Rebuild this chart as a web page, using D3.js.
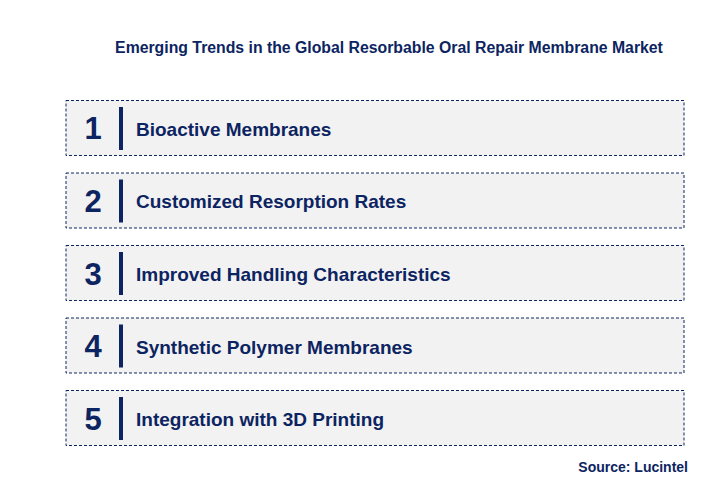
<!DOCTYPE html>
<html>
<head>
<meta charset="utf-8">
<script src="https://cdn.jsdelivr.net/npm/d3@7"></script>
<style>
body { margin: 0; background: #fff; }
text { font-family: "Liberation Sans", Arial, sans-serif; font-weight: bold; }
</style>
</head>
<body>
<div id="chart"></div>
<script>

var title = "Emerging Trends in the Global Resorbable Oral Repair Membrane Market";
var ranks = [1, 2, 3, 4, 5];
var trends = [
    "Bioactive Membranes",
    "Customized Resorption Rates",
    "Improved Handling Characteristics",
    "Synthetic Polymer Membranes",
    "Integration with 3D Printing"
];
var source = "Source: Lucintel";

var navy = "#0c2461";

var svg = d3.select( '#chart' ).append( "svg" ).attr( "width", 712 ).attr( "height", 481 );

var y = d3.scaleBand().domain( ranks ).range( [100, 445] ).paddingInner( 0.2414 ).paddingOuter( 0 );

svg.append( "text" )
    .attr( "x", 389 ).attr( "y", 53 )
    .attr( "text-anchor", "middle" )
    .attr( "font-size", "15.8px" )
    .style( "fill", navy )
    .text( title );

var rows = svg.selectAll( "g.row" ).data( ranks ).enter().append( "g" ).attr( "class", "row" );

rows.append( "rect" )
    .attr( "x", 66 ).attr( "y", function( d ) { return y( d ) + 0.5; } )
    .attr( "width", 618 ).attr( "height", y.bandwidth() )
    .style( "fill", "#f2f2f2" )
    .style( "stroke", navy )
    .style( "stroke-width", 1 )
    .style( "stroke-dasharray", "3,2" );

rows.append( "text" )
    .attr( "x", 93 ).attr( "y", function( d ) { return y( d ) + y.bandwidth() / 2 + 12; } )
    .attr( "text-anchor", "middle" )
    .attr( "font-size", "31px" )
    .style( "fill", navy )
    .text( function( d ) { return d; } );

rows.append( "rect" )
    .attr( "x", 119 ).attr( "y", function( d ) { return y( d ) + 7; } )
    .attr( "width", 4 ).attr( "height", y.bandwidth() - 12 )
    .style( "fill", navy );

rows.append( "text" )
    .attr( "x", 136 ).attr( "y", function( d ) { return y( d ) + y.bandwidth() / 2 + 8.5; } )
    .attr( "font-size", "19px" )
    .style( "fill", navy )
    .text( function( d, i ) { return trends[i]; } );

svg.append( "text" )
    .attr( "x", 688 ).attr( "y", 472 )
    .attr( "text-anchor", "end" )
    .attr( "font-size", "14px" )
    .style( "fill", navy )
    .text( source );

</script>
</body>
</html>
